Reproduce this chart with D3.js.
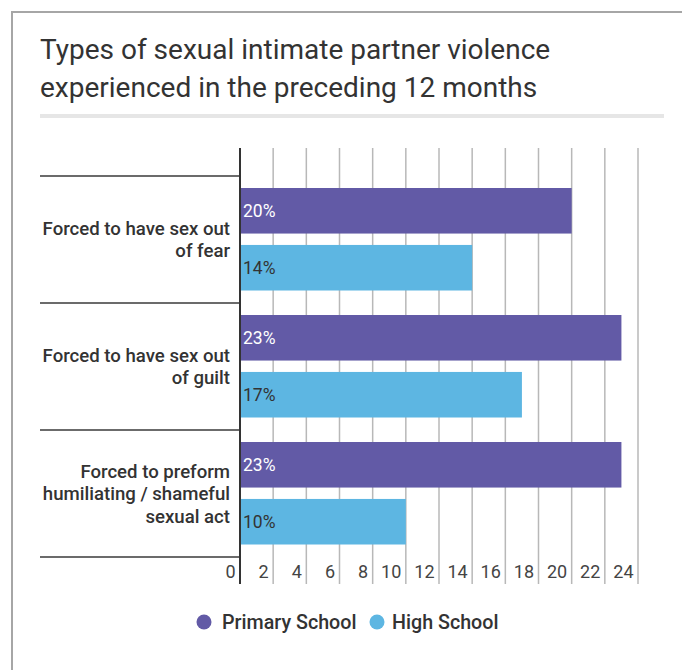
<!DOCTYPE html>
<html>
<head>
<meta charset="utf-8">
<script src="https://cdn.jsdelivr.net/npm/d3@7"></script>
<style>
  html, body { margin: 0; padding: 0; background: #fff; }
  svg { display: block; font-family: Roboto, "Noto Sans", sans-serif; }
</style>
</head>
<body>
<svg id="chart" width="682" height="670"></svg>
<script>
// Sexual IPV types by school level (percent of respondents)
const titleLines = ["Types of sexual intimate partner violence", "experienced in the preceding 12 months"];
const categories = ["fear", "guilt", "humiliating"];
const categoryLabels = [
  ["Forced to have sex out", "of fear"],
  ["Forced to have sex out", "of guilt"],
  ["Forced to preform", "humiliating / shameful", "sexual act"]
];
const seriesNames = ["Primary School", "High School"];
const primarySchool = [20, 23, 23];
const highSchool = [14, 17, 10];
const tickValues = [0, 2, 4, 6, 8, 10, 12, 14, 16, 18, 20, 22, 24];

const colors = { "Primary School": "#625aa6", "High School": "#5db6e2" };
const labelColors = { "Primary School": "#ffffff", "High School": "#333333" };

const svg = d3.select("#chart");

// card border (top and left edges visible)
svg.append("path")
  .attr("d", "M12,670 L12,12 L682,12")
  .attr("fill", "none").attr("stroke", "#a6a6a6").attr("stroke-width", 2);

// title
const title = svg.append("text")
  .attr("x", 40).attr("y", 59)
  .attr("fill", "#333").attr("font-size", 28);
title.selectAll("tspan").data(titleLines).join("tspan")
  .attr("x", 40).attr("dy", (d, i) => i === 0 ? 0 : 38)
  .text(d => d);

svg.append("rect")
  .attr("x", 40).attr("y", 114).attr("width", 624).attr("height", 4)
  .attr("fill", "#e6e6e6");

// scales
const x = d3.scaleLinear().domain([0, 24]).range([240, 638]);
const y = d3.scaleBand().domain(categories).range([176, 557]).padding(0);
const inner = d3.scaleBand().domain(seriesNames).range([12, 114.5]).paddingInner(0.2).paddingOuter(0);

const gridTop = 148, gridBottom = 584;

// vertical gridlines
svg.append("g").selectAll("line").data(tickValues.filter(d => d > 0)).join("line")
  .attr("x1", d => x(d)).attr("x2", d => x(d))
  .attr("y1", gridTop).attr("y2", gridBottom)
  .attr("stroke", "#b8b8b8").attr("stroke-width", 1.5);

// category separators
svg.append("g").selectAll("line").data([...categories.map(c => y(c)), y.range()[1]]).join("line")
  .attr("x1", 40).attr("x2", 240)
  .attr("y1", d => d).attr("y2", d => d)
  .attr("stroke", "#6b6b6b").attr("stroke-width", 2);

// bars
const rows = categories.map((c, i) => ({
  cat: c,
  values: [
    { series: "Primary School", value: primarySchool[i] },
    { series: "High School", value: highSchool[i] }
  ]
}));

const groups = svg.append("g").selectAll("g").data(rows).join("g")
  .attr("transform", d => `translate(0,${y(d.cat)})`);

groups.selectAll("rect").data(d => d.values).join("rect")
  .attr("x", x(0))
  .attr("y", d => inner(d.series))
  .attr("width", d => x(d.value) - x(0))
  .attr("height", inner.bandwidth())
  .attr("fill", d => colors[d.series]);

groups.selectAll("text.val").data(d => d.values).join("text")
  .attr("class", "val")
  .attr("x", x(0) + 3)
  .attr("y", d => inner(d.series) + inner.bandwidth() / 2)
  .attr("dy", "0.35em")
  .attr("font-size", 17.5)
  .attr("fill", d => labelColors[d.series])
  .text(d => d.value + "%");

// zero axis line
svg.append("line")
  .attr("x1", x(0)).attr("x2", x(0))
  .attr("y1", gridTop).attr("y2", gridBottom)
  .attr("stroke", "#333").attr("stroke-width", 2);

// category labels
const lineH = 22.5;
svg.append("g").selectAll("text").data(categories).join("text")
  .attr("text-anchor", "end")
  .attr("font-size", 18.6).attr("font-weight", 500).attr("fill", "#333")
  .each(function (c, i) {
    const lines = categoryLabels[i];
    const cy = y(c) + y.bandwidth() / 2;
    const startY = cy - (lines.length - 1) * lineH / 2;
    d3.select(this).selectAll("tspan").data(lines).join("tspan")
      .attr("x", 230)
      .attr("y", (d, j) => startY + j * lineH)
      .attr("dy", "0.35em")
      .text(d => d);
  });

// x axis tick labels (right-aligned to each gridline)
const xAxis = d3.axisBottom(x).tickValues(tickValues).tickSize(0).tickPadding(0);
const axisG = svg.append("g").attr("transform", `translate(0,572)`).call(xAxis);
axisG.select(".domain").remove();
axisG.selectAll("text")
  .attr("text-anchor", "end")
  .attr("x", -5).attr("y", 0).attr("dy", "0.35em")
  .attr("font-family", "Roboto, sans-serif")
  .attr("font-size", 18).attr("fill", "#444");

// legend
const legendItems = [
  { name: "Primary School", cx: 204, tx: 222 },
  { name: "High School", cx: 377, tx: 392 }
];
const legend = svg.append("g").selectAll("g").data(legendItems).join("g");
legend.append("circle")
  .attr("cx", d => d.cx).attr("cy", 622).attr("r", 7.5)
  .attr("fill", d => colors[d.name]);
legend.append("text")
  .attr("x", d => d.tx).attr("y", 622).attr("dy", "0.35em")
  .attr("font-size", 19.7).attr("font-weight", 500).attr("fill", "#333")
  .text(d => d.name);
</script>
</body>
</html>
